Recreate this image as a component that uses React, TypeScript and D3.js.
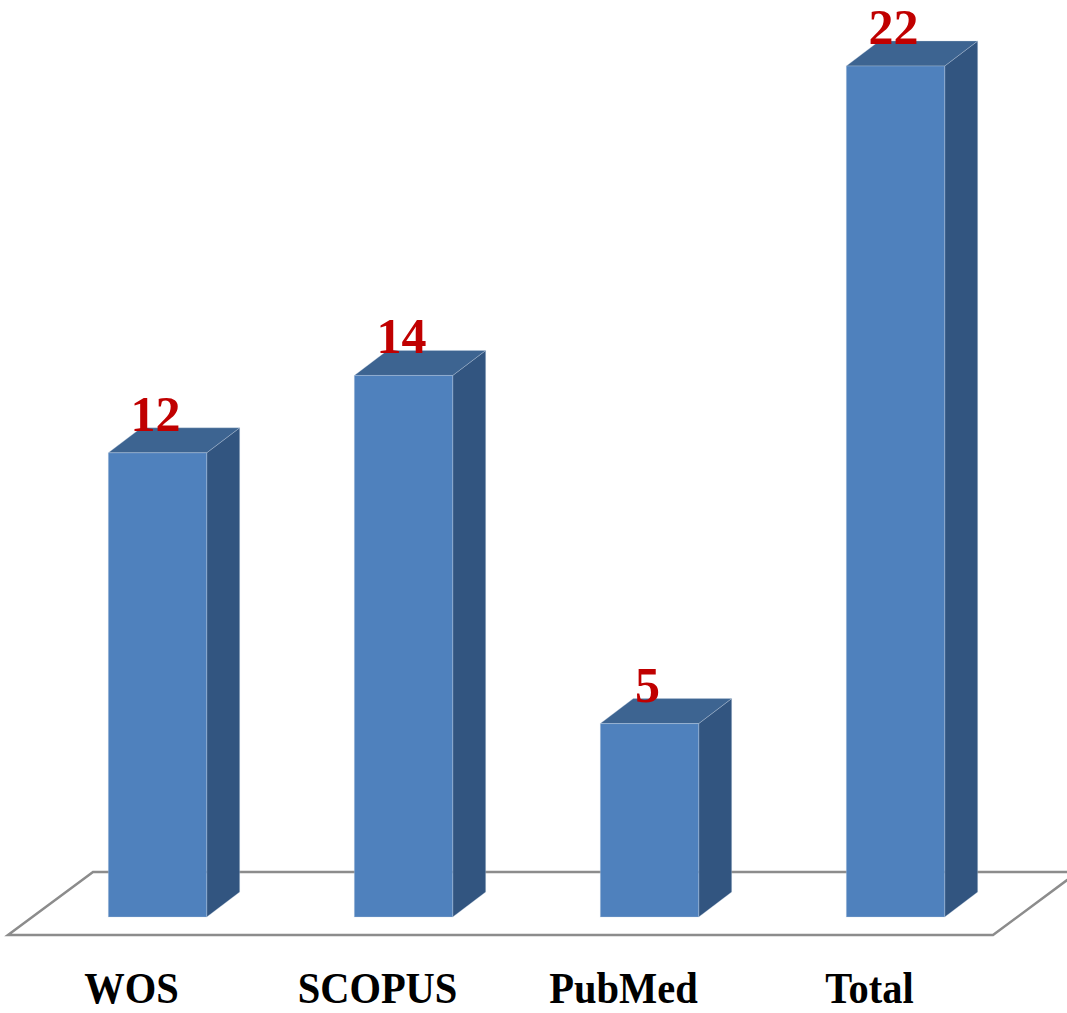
import * as d3 from "d3";
import { ReactElement } from "react";

// chart data
const categories = ["WOS", "SCOPUS", "PubMed", "Total"];
const values = [12, 14, 5, 22];

const width = 1067;
const height = 1013;

// 3d depth of the bars and the floor
const depthX = 33;
const depthY = -25;
const floorBack = { y: 872, left: 93, right: 1078 };
const floorFront = { y: 935, left: 8, right: 993 };

const frontColor = "#4F81BD";
const sideColor = "#325580";
const topColor = "#3D6491";

const App = (): ReactElement => {
    const xScale = d3.scaleBand()
        .domain(categories)
        .range([34.5, 1018.5])
        .paddingInner(0.6)
        .paddingOuter(0.3);

    const yScale = d3.scaleLinear()
        .domain([0, 22])
        .range([917, 66]);

    const bw = xScale.bandwidth();
    const base = yScale(0);

    const floorPath = d3.path();
    floorPath.moveTo(floorBack.right, floorBack.y);
    floorPath.lineTo(floorBack.left, floorBack.y);
    floorPath.lineTo(floorFront.left, floorFront.y);
    floorPath.lineTo(floorFront.right, floorFront.y);
    floorPath.lineTo(floorBack.right, floorBack.y);

    return (
        <svg width={width} height={height} style={{ display: "block", position: "absolute", left: 0, top: 0 }}>
            <rect width={width} height={height} fill="#ffffff" />
            <path d={floorPath.toString()} fill="none" stroke="#8c8c8c" strokeWidth={2.5} />

            {categories.map((c, i) => {
                const x0 = xScale(c)!;
                const x1 = x0 + bw;
                const yt = yScale(values[i]);
                const top = `M${x0},${yt} L${x0 + depthX},${yt + depthY} L${x1 + depthX},${yt + depthY} L${x1},${yt} Z`;
                const side = `M${x1},${yt} L${x1 + depthX},${yt + depthY} L${x1 + depthX},${base + depthY} L${x1},${base} Z`;
                const lx = x0 + bw / 2 - 26;
                return (
                    <g key={c}>
                        <path d={side} fill={sideColor} stroke="#c8d4e6" strokeOpacity={0.3} strokeWidth={1} />
                        <path d={top} fill={topColor} stroke="#c8d4e6" strokeOpacity={0.3} strokeWidth={1} />
                        <rect x={x0} y={yt} width={bw} height={base - yt} fill={frontColor}
                            stroke="#c8d4e6" strokeOpacity={0.3} strokeWidth={1} />
                        <text x={x0 + bw / 2 - 2} y={yt + depthY + 3} textAnchor="middle"
                            fontFamily="'Liberation Serif', 'DejaVu Serif', serif" fontWeight="bold"
                            fontSize={50} fill="#C00000">{values[i]}</text>
                        <text transform={`translate(${lx},1003) scale(0.9,1)`} textAnchor="middle"
                            fontFamily="'Liberation Serif', 'DejaVu Serif', serif" fontWeight="bold"
                            fontSize={45} fill="#000000">{c}</text>
                    </g>
                );
            })}
        </svg>
    );
};

export default App;
